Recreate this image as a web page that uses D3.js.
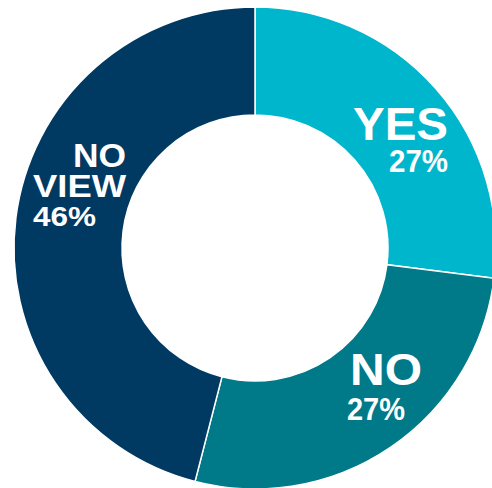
<!DOCTYPE html>
<html>
<head>
<meta charset="utf-8">
<script src="https://cdn.jsdelivr.net/npm/d3@7"></script>
<style>
  html, body { margin: 0; padding: 0; background: #fff; }
  svg { display: block; }
  .lbl { fill: #fff; font-family: "Liberation Sans", Arial, sans-serif; font-weight: bold; }
</style>
</head>
<body>
<svg id="chart" width="492" height="488"></svg>
<script>
// Survey answers, clockwise from twelve o'clock
const categories = ["YES", "NO", "NO VIEW"];
const shares = [27, 27, 46];
const colors = ["#00B6CD", "#007A88", "#003A63"];

const svg = d3.select("#chart");
const cx = 255, cy = 248, outerR = 241, innerR = 133;

const pie = d3.pie().sort(null).value(d => d.value);
const arc = d3.arc().innerRadius(innerR).outerRadius(outerR);

const data = categories.map((c, i) => ({ name: c, value: shares[i], color: colors[i] }));
const g = svg.append("g").attr("transform", `translate(${cx},${cy})`);

g.selectAll("path")
  .data(pie(data))
  .join("path")
  .attr("d", arc)
  .attr("fill", d => d.data.color)
  .attr("stroke", "#fff")
  .attr("stroke-width", 1.5);

// Label blocks: each line has its own size, anchor and set width
const labelLayout = [
  { lines: [
      { text: "YES", x: 448, y: 140, size: 46, anchor: "end", w: 95 },
      { text: shares[0] + "%", x: 448, y: 172, size: 31, anchor: "end", w: 59 } ] },
  { lines: [
      { text: "NO", x: 350, y: 385, size: 45, anchor: "start", w: 72 },
      { text: shares[1] + "%", x: 347, y: 420, size: 32, anchor: "start", w: 58 } ] },
  { lines: [
      { text: "NO", x: 126, y: 167, size: 34, anchor: "end", w: 53 },
      { text: "VIEW", x: 126, y: 197, size: 31, anchor: "end", w: 93 },
      { text: shares[2] + "%", x: 33, y: 226, size: 27, anchor: "start", w: 63 } ] }
];

labelLayout.forEach(block => {
  block.lines.forEach(l => {
    svg.append("text")
      .attr("class", "lbl")
      .attr("x", l.x)
      .attr("y", l.y)
      .attr("text-anchor", l.anchor)
      .attr("font-size", l.size)
      .attr("textLength", l.w)
      .attr("lengthAdjust", "spacingAndGlyphs")
      .text(l.text);
  });
});
</script>
</body>
</html>
